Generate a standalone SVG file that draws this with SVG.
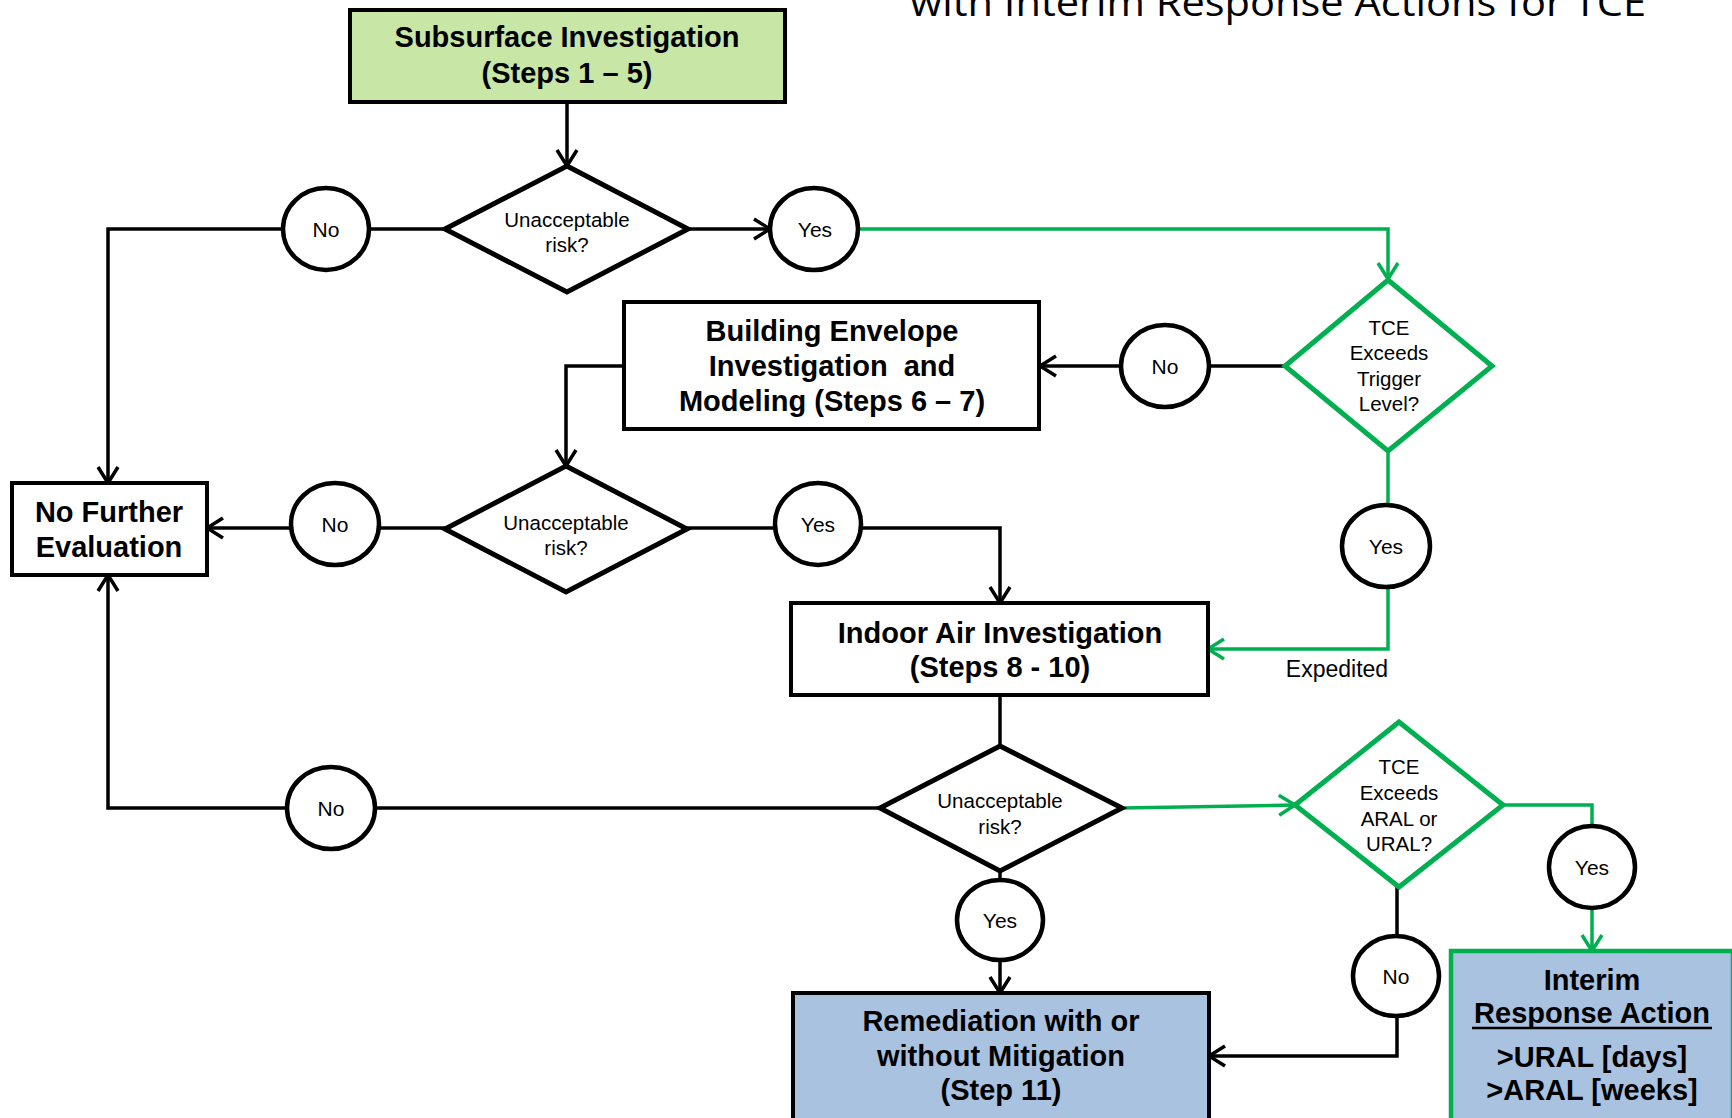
<svg xmlns="http://www.w3.org/2000/svg" width="1732" height="1118" viewBox="0 0 1732 1118">
<defs>
<marker id="ab" viewBox="0 0 20 24" refX="18" refY="12" markerWidth="20" markerHeight="24" markerUnits="userSpaceOnUse" orient="auto"><path d="M2,2 L18,12 L2,22" fill="none" stroke="#000" stroke-width="3.5"/></marker>
<marker id="ag" viewBox="0 0 20 24" refX="18" refY="12" markerWidth="20" markerHeight="24" markerUnits="userSpaceOnUse" orient="auto"><path d="M2,2 L18,12 L2,22" fill="none" stroke="#00b050" stroke-width="3.5"/></marker>
</defs>
<style>
.box{fill:#fff;stroke:#000;stroke-width:4}
.gbox{fill:#c8e6a6;stroke:#000;stroke-width:4}
.bbox{fill:#a9c2e0;stroke:#000;stroke-width:4}
.ibox{fill:#a9c2e0;stroke:#00b050;stroke-width:4.5}
.dia{fill:#fff;stroke:#000;stroke-width:5;stroke-linejoin:miter}
.gdia{fill:#fff;stroke:#00b050;stroke-width:5;stroke-linejoin:miter}
.cir{fill:#fff;stroke:#000;stroke-width:4.5}
.bt{font-family:"Liberation Sans",Arial,sans-serif;font-weight:bold;font-size:29px;text-anchor:middle;fill:#000}
.rt{font-family:"Liberation Sans",Arial,sans-serif;font-size:20.5px;text-anchor:middle;fill:#000}
.ct{font-family:"Liberation Sans",Arial,sans-serif;font-size:21px;text-anchor:middle;fill:#000}
.k{fill:none;stroke:#000;stroke-width:3.5}
.g{fill:none;stroke:#00b050;stroke-width:3.5}
</style>
<rect width="1732" height="1118" fill="#fff"/>
<text x="910" y="16" font-family="'Open Sans','Noto Sans',sans-serif" font-size="38" textLength="736" lengthAdjust="spacingAndGlyphs" fill="#000">with Interim Response Actions for TCE</text>

<g id="connectors">
<path class="k" d="M567,102 V166" marker-end="url(#ab)"/>
<path class="k" d="M445,229 H369"/>
<path class="k" d="M283,229 H108 V483" marker-end="url(#ab)"/>
<path class="k" d="M688,229 H770" marker-end="url(#ab)"/>
<path class="g" d="M858,229 H1388 V279" marker-end="url(#ag)"/>
<path class="k" d="M1285,366 H1209"/>
<path class="k" d="M1121,366 H1040" marker-end="url(#ab)"/>
<path class="k" d="M623,366 H566 V466" marker-end="url(#ab)"/>
<path class="k" d="M445,528 H379"/>
<path class="k" d="M291,528 H207" marker-end="url(#ab)"/>
<path class="k" d="M687,528 H775"/>
<path class="k" d="M861,528 H1000 V603" marker-end="url(#ab)"/>
<path class="g" d="M1388,452 V505"/>
<path class="g" d="M1388,587 V649 H1208" marker-end="url(#ag)"/>
<path class="k" d="M1000,695 V746"/>
<path class="k" d="M880,808 H376"/>
<path class="k" d="M287,808 H108 V575" marker-end="url(#ab)"/>
<path class="k" d="M1000,871 V880"/>
<path class="k" d="M1000,960 V993" marker-end="url(#ab)"/>
<path class="g" d="M1122,808 L1295,805" marker-end="url(#ag)"/>
<path class="g" d="M1503,805 H1592 V826"/>
<path class="g" d="M1592,908 V951" marker-end="url(#ag)"/>
<path class="k" d="M1397,887 V936"/>
<path class="k" d="M1397,1016 V1056 H1209" marker-end="url(#ab)"/>
</g>

<g id="subsurface">
<rect class="gbox" x="350" y="10" width="435" height="92"/>
<text class="bt" x="567" y="47">Subsurface Investigation</text>
<text class="bt" x="567" y="83">(Steps 1 – 5)</text>
</g>

<g id="decision1">
<polygon class="dia" points="567,166 688,229 567,292 445,229"/>
<text class="rt" x="567" y="227">Unacceptable</text>
<text class="rt" x="567" y="252">risk?</text>
</g>
<g id="no1"><ellipse class="cir" cx="326" cy="229" rx="43" ry="41"/><text class="ct" x="326" y="237">No</text></g>
<g id="yes1"><ellipse class="cir" cx="814" cy="229" rx="44" ry="41"/><text class="ct" x="815" y="237">Yes</text></g>

<g id="tce-trigger">
<polygon class="gdia" points="1388,280 1492,366 1388,451 1285,366"/>
<text class="rt" x="1389" y="335">TCE</text>
<text class="rt" x="1389" y="360">Exceeds</text>
<text class="rt" x="1389" y="386">Trigger</text>
<text class="rt" x="1389" y="411">Level?</text>
</g>
<g id="no2"><ellipse class="cir" cx="1165" cy="366" rx="44" ry="41"/><text class="ct" x="1165" y="374">No</text></g>

<g id="building">
<rect class="box" x="624" y="302" width="415" height="127"/>
<text class="bt" x="832" y="341">Building Envelope</text>
<text class="bt" x="832" y="376" xml:space="preserve">Investigation  and</text>
<text class="bt" x="832" y="411">Modeling (Steps 6 – 7)</text>
</g>

<g id="decision2">
<polygon class="dia" points="566,466 687,529 566,592 445,529"/>
<text class="rt" x="566" y="530">Unacceptable</text>
<text class="rt" x="566" y="555">risk?</text>
</g>
<g id="no3"><ellipse class="cir" cx="335" cy="524" rx="44" ry="41"/><text class="ct" x="335" y="532">No</text></g>
<g id="yes2"><ellipse class="cir" cx="818" cy="524" rx="43" ry="41"/><text class="ct" x="818" y="532">Yes</text></g>

<g id="no-further">
<rect class="box" x="12" y="483" width="195" height="92"/>
<text class="bt" x="109" y="522">No Further</text>
<text class="bt" x="109" y="557">Evaluation</text>
</g>

<g id="yes3"><ellipse class="cir" cx="1386" cy="546" rx="44" ry="41"/><text class="ct" x="1386" y="554">Yes</text></g>
<g id="expedited"><text x="1337" y="677" font-family="'Liberation Sans',Arial,sans-serif" font-size="23" text-anchor="middle">Expedited</text></g>

<g id="indoor">
<rect class="box" x="791" y="603" width="417" height="92"/>
<text class="bt" x="1000" y="643">Indoor Air Investigation</text>
<text class="bt" x="1000" y="677">(Steps 8 - 10)</text>
</g>

<g id="decision3">
<polygon class="dia" points="1000,746 1122,808 1000,871 880,808"/>
<text class="rt" x="1000" y="808">Unacceptable</text>
<text class="rt" x="1000" y="834">risk?</text>
</g>
<g id="no4"><ellipse class="cir" cx="331" cy="808" rx="44" ry="41"/><text class="ct" x="331" y="816">No</text></g>
<g id="yes4"><ellipse class="cir" cx="1000" cy="920" rx="43" ry="40"/><text class="ct" x="1000" y="928">Yes</text></g>

<g id="tce-aral">
<polygon class="gdia" points="1399,722 1503,805 1399,887 1295,805"/>
<text class="rt" x="1399" y="774">TCE</text>
<text class="rt" x="1399" y="800">Exceeds</text>
<text class="rt" x="1399" y="826">ARAL or</text>
<text class="rt" x="1399" y="851">URAL?</text>
</g>
<g id="yes5"><ellipse class="cir" cx="1592" cy="867" rx="43" ry="41"/><text class="ct" x="1592" y="875">Yes</text></g>
<g id="no5"><ellipse class="cir" cx="1396" cy="976" rx="43" ry="40"/><text class="ct" x="1396" y="984">No</text></g>

<g id="remediation">
<rect class="bbox" x="793" y="993" width="416" height="140"/>
<text class="bt" x="1001" y="1031">Remediation with or</text>
<text class="bt" x="1001" y="1066">without Mitigation</text>
<text class="bt" x="1001" y="1100">(Step 11)</text>
</g>

<g id="interim">
<rect class="ibox" x="1451" y="951" width="282" height="180"/>
<text class="bt" x="1592" y="990">Interim</text>
<text class="bt" x="1592" y="1023">Response Action</text>
<line x1="1472" y1="1028" x2="1712" y2="1028" stroke="#000" stroke-width="2.5"/>
<text class="bt" x="1592" y="1067">&gt;URAL [days]</text>
<text class="bt" x="1592" y="1100">&gt;ARAL [weeks]</text>
</g>
</svg>
